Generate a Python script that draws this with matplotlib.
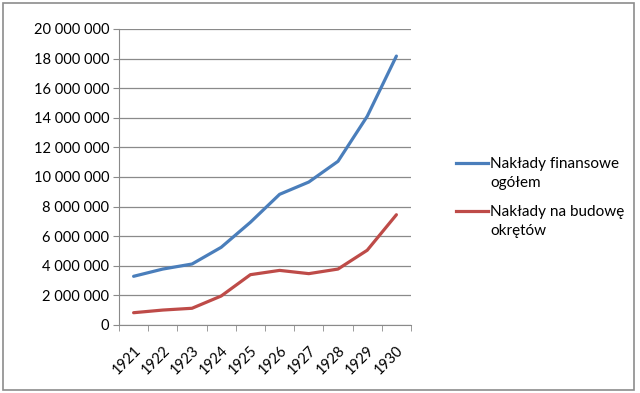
import numpy as np
import matplotlib
matplotlib.use('Agg')
import matplotlib.pyplot as plt
from matplotlib.ticker import FuncFormatter, FixedLocator
from matplotlib.patches import Rectangle
from matplotlib.lines import Line2D

plt.rcParams['font.family'] = ['Lato', 'DejaVu Sans']

years = ['1921', '1922', '1923', '1924', '1925', '1926', '1927', '1928', '1929', '1930']
naklady_ogolem = [3290000, 3780000, 4120000, 5250000, 6940000, 8830000, 9660000, 11060000, 14100000, 18170000]
naklady_okrety = [830000, 1010000, 1130000, 1960000, 3400000, 3690000, 3470000, 3780000, 5050000, 7450000]
series_labels = ['Nakłady finansowe\nogółem', 'Nakłady na budowę\nokrętów']
series_colors = ['#4A7EBB', '#BE4B48']

W, H = 640, 393
fig = plt.figure(figsize=(W / 100, H / 100), dpi=100)
fig.patches.append(Rectangle((3 / W, 3 / H), 631 / W, 387 / H, transform=fig.transFigure,
                             fill=False, edgecolor='#8c8c8c', linewidth=1.2))
ax = fig.add_axes([119 / W, 1 - 325 / H, (411 - 119) / W, (325 - 29) / H])

x = np.arange(len(years))
for vals, col in zip([naklady_ogolem, naklady_okrety], series_colors):
    ax.plot(x, vals, color=col, linewidth=2.3, solid_capstyle='round')

ax.set_xlim(-0.5, len(years) - 0.5)
ax.set_ylim(0, 20000000)
ax.set_yticks(np.arange(0, 20000001, 2000000))
ax.yaxis.set_major_formatter(FuncFormatter(lambda v, p: f'{int(v):,}'.replace(',', ' ')))
ax.grid(axis='y', color='#8a8a8a', linewidth=0.9)
ax.set_axisbelow(True)

ax.set_xticks(x)
ax.set_xticklabels(years, rotation=45, ha='right', va='top', rotation_mode='anchor')
ax.xaxis.set_minor_locator(FixedLocator(np.arange(-0.5, len(years), 1.0)))
ax.tick_params(axis='x', which='major', length=0, pad=13, labelsize=10.5)
ax.tick_params(axis='x', which='minor', length=4, color='#8a8a8a', direction='out')
ax.tick_params(axis='y', length=4, color='#8a8a8a', labelsize=10.5, pad=3)

for s in ['top', 'right']:
    ax.spines[s].set_visible(False)
for s in ['left', 'bottom']:
    ax.spines[s].set_color('#8a8a8a')

# legenda po prawej (jak w Excelu)
for i, (lab, col) in enumerate(zip(series_labels, series_colors)):
    yl = 1 - (163 + i * 48) / H
    fig.add_artist(Line2D([456 / W, 488 / W], [yl, yl], transform=fig.transFigure,
                          color=col, linewidth=2.3))
    fig.text(490 / W, yl + 6 / H, lab, fontsize=11, va='top', ha='left', linespacing=1.45,
             transform=fig.transFigure)

fig.savefig('out.png', dpi=100)
